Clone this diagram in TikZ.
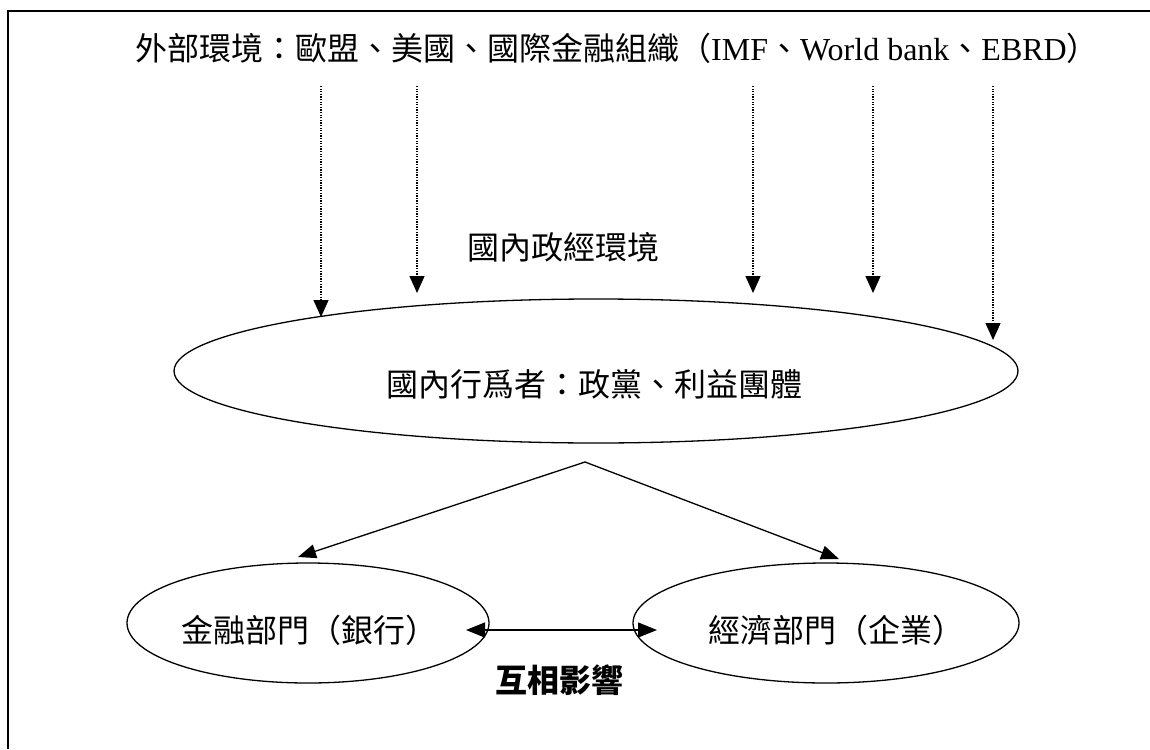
\documentclass[tikz,border=0pt]{standalone}
\usepackage{fontspec}
\setmainfont{Liberation Serif}
\newfontfamily\cjk{Noto Sans CJK TC}
\usetikzlibrary{arrows.meta,shapes.geometric}
\begin{document}
\begin{tikzpicture}[x=1pt,y=-1pt,
  every node/.style={inner sep=0pt, font=\fontsize{32}{38}\selectfont},
  oval/.style={draw, ellipse, line width=1.3pt},
  dotarrow/.style={line width=1.3pt, dash pattern=on 1.3pt off 1.3pt,
    -{Triangle[width=15pt,length=17pt]}},
  solidarrow/.style={line width=1.3pt, -{Triangle[width=14pt,length=18pt]}},
  duoarrow/.style={line width=1.3pt, {Triangle[width=15pt,length=19pt]}-{Triangle[width=15pt,length=19pt]}},
  frame/.style={line width=1.6pt}]
\useasboundingbox (0,0) rectangle (1150,749);
\fill[white] (0,0) rectangle (1150,749);
% frame
\coordinate (fa) at (8,749);
\coordinate (fb) at (8,11);
\coordinate (fc) at (1150,11);
\draw[frame] (fa) -- (fb) -- (fc);
% texts
\node (ext) at (617,48) {\cjk 外部環境：歐盟、美國、國際金融組織（\rmfamily IMF\cjk 、\rmfamily World bank\cjk 、\rmfamily EBRD\cjk ）};
\node (dom) at (563,247) {\cjk 國內政經環境};
% ellipses
\node[oval, minimum width=844pt, minimum height=144pt] (actors) at (596,371) {};
\node (actorstext) at (594,384) {\cjk 國內行爲者：政黨、利益團體};
\node[oval, minimum width=362pt, minimum height=120pt] (fin) at (308,623) {};
\node (fintext) at (309,630) {\cjk 金融部門（銀行）};
\node[oval, minimum width=386pt, minimum height=120pt] (eco) at (826,623) {};
\node (ecotext) at (836,630) {\cjk 經濟部門（企業）};
\node (mutual) at (559,680) {\cjk\bfseries 互相影響};
% dotted arrows
\coordinate (s1) at (321,86); \coordinate (t1) at (321,317);
\coordinate (s2) at (417,86); \coordinate (t2) at (417,293);
\coordinate (s3) at (753,86); \coordinate (t3) at (753,293);
\coordinate (s4) at (873,86); \coordinate (t4) at (873,293);
\coordinate (s5) at (993,86); \coordinate (t5) at (993,340);
\foreach \i in {1,...,5} {\draw[dotarrow] (s\i) -- (t\i);}
% branch arrows
\coordinate (apex) at (585,462);
\coordinate (tl) at (298,557);
\coordinate (tr) at (839,559);
\draw[solidarrow] (apex) -- (tl);
\draw[solidarrow] (apex) -- (tr);
% mutual arrow
\coordinate (ml) at (466,630);
\coordinate (mr) at (657,630);
\draw[duoarrow] (ml) -- (mr);
\end{tikzpicture}
\end{document}
